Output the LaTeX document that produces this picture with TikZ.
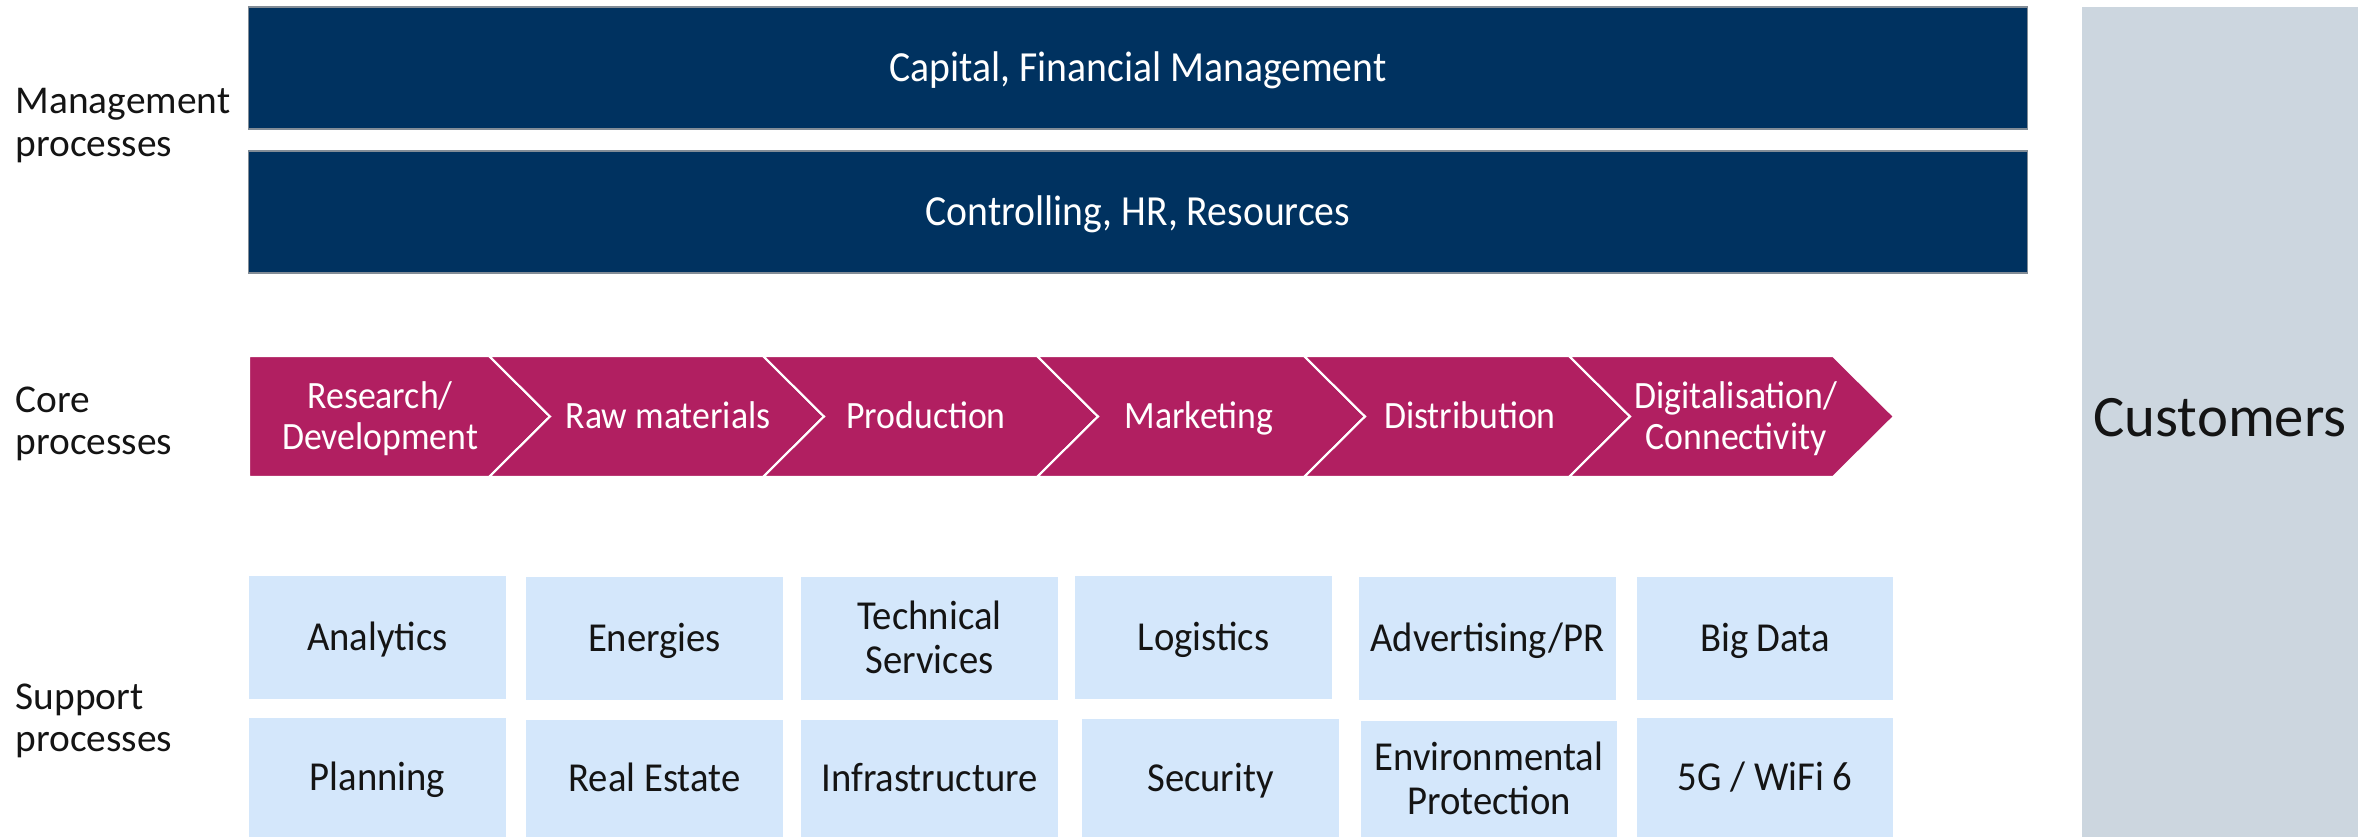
\documentclass[tikz,border=0pt]{standalone}
\usepackage{fontspec}
\setmainfont{Carlito}
\newfontfamily\condA{Carlito}[FakeStretch=0.925]
\newfontfamily\condB{Carlito}[FakeStretch=0.94]
\definecolor{navy}{RGB}{0,50,96}
\definecolor{bargray}{RGB}{130,140,150}
\definecolor{chevmag}{RGB}{177,31,97}
\definecolor{suppblue}{RGB}{212,231,251}
\definecolor{custgray}{RGB}{204,214,223}
\definecolor{txtdark}{RGB}{20,20,20}
\newcommand\fbar{\condA\fontsize{12.2}{14}\selectfont}
\newcommand\fchev{\condA\fontsize{11}{11.7}\selectfont}
\newcommand\fsupp{\condB\fontsize{11.7}{12.4}\selectfont}
\newcommand\flab{\fontsize{11.2}{12.0}\selectfont}
\newcommand\fcust{\fontsize{16.7}{19}\selectfont}
\begin{document}
\begin{tikzpicture}[x=0.01cm, y=-0.01cm,
  bar/.style={fill=navy, draw=bargray, line width=0.5pt, text=white,
    minimum width=17.78cm, minimum height=1.22cm, inner sep=0pt,
    font=\fbar, text height=9pt, text depth=1.14pt},
  chev/.style={fill=chevmag, draw=white, line width=0.6pt, line join=miter},
  chevtext/.style={text=white, font=\fchev, align=center, inner sep=0pt},
  chevone/.style={chevtext, text height=9pt, text depth=1.92pt},
  chevtwo/.style={chevtext, text height=20pt, text depth=1.22pt},
  supp/.style={fill=suppblue, draw=none, inner sep=0pt, font=\fsupp,
    align=center, text=txtdark, minimum width=2.57cm},
  suppone/.style={supp, text height=9.5pt, text depth=1.97pt},
  supptwo/.style={supp, text height=21pt, text depth=1.07pt},
  lab/.style={anchor=west, inner sep=0pt, font=\flab, align=left,
    text=txtdark, text height=20pt, text depth=0.79pt},
  cust/.style={fill=custgray, draw=none, inner sep=0pt, font=\fcust,
    text=txtdark, minimum width=2.76cm, minimum height=8.30cm,
    text height=10pt, text depth=1.64pt}
]
\useasboundingbox (0,0) rectangle (2364,837);

% left labels
\node[lab] (labman) at (15,122.4) {Management\\processes};
\node[lab] (labcore) at (15,420.5) {Core\\processes};
\node[lab] (labsupp) at (15,718) {Support\\processes};

% management bars
\node[bar] (capital) at (1138,68) {Capital, Financial Management};
\node[bar] (controlling) at (1138,212) {Controlling, HR, Resources};

% customers
\node[cust] (customers) at (2220,422) {Customers};

% core process chevrons
\draw[chev] (249,356) -- (489,356) -- (550,416.5) -- (489,477) -- (249,477) -- cycle;
\draw[chev] (489,356) -- (763,356) -- (824,416.5) -- (763,477) -- (489,477) -- (550,416.5) -- cycle;
\draw[chev] (763,356) -- (1037,356) -- (1098,416.5) -- (1037,477) -- (763,477) -- (824,416.5) -- cycle;
\draw[chev] (1037,356) -- (1304,356) -- (1365,416.5) -- (1304,477) -- (1037,477) -- (1098,416.5) -- cycle;
\draw[chev] (1304,356) -- (1569,356) -- (1630,416.5) -- (1569,477) -- (1304,477) -- (1365,416.5) -- cycle;
\draw[chev] (1569,356) -- (1833,356) -- (1894,416.5) -- (1833,477) -- (1569,477) -- (1630,416.5) -- cycle;

\node[chevtwo] (research) at (380,416.5) {Research/\\Development};
\node[chevone] (raw) at (668,416.5) {Raw materials};
\node[chevone] (production) at (926,416.5) {Production};
\node[chevone] (marketing) at (1199,416.5) {Marketing};
\node[chevone] (distribution) at (1470,416.5) {Distribution};
\node[chevtwo] (digital) at (1736,416.5) {Digitalisation/\\Connectivity};

% support processes row 1
\node[suppone, minimum height=1.23cm] (analytics) at (377.5,637.5) {Analytics};
\node[suppone, minimum height=1.23cm] (energies) at (654.5,638.5) {Energies};
\node[supptwo, minimum height=1.23cm] (technical) at (929.5,638.5) {Technical\\Services};
\node[suppone, minimum height=1.23cm] (logistics) at (1203.5,637.5) {Logistics};
\node[suppone, minimum height=1.23cm] (advertising) at (1487.5,638.5) {Advertising/PR};
\node[suppone, minimum height=1.23cm, minimum width=2.56cm] (bigdata) at (1765,638.5) {Big Data};

% support processes row 2
\node[suppone, minimum height=1.19cm] (planning) at (377.5,777.5) {Planning};
\node[suppone, minimum height=1.17cm] (realestate) at (654.5,778.5) {Real Estate};
\node[suppone, minimum height=1.17cm] (infrastructure) at (929.5,778.5) {Infrastructure};
\node[suppone, minimum height=1.18cm] (security) at (1210.5,778) {Security};
\node[supptwo, minimum height=1.16cm, minimum width=2.56cm] (environmental) at (1489,779) {Environmental\\Protection};
\node[suppone, minimum height=1.19cm, minimum width=2.56cm] (fiveg) at (1765,777.5) {5G / WiFi 6};
\end{tikzpicture}
\end{document}
